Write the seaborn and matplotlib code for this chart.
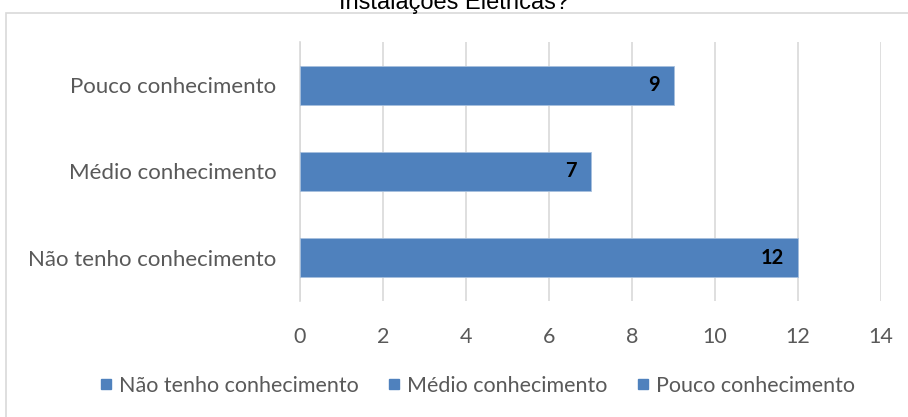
import matplotlib
matplotlib.use("Agg")
import matplotlib.pyplot as plt
from matplotlib.patches import Rectangle
from matplotlib.lines import Line2D
import seaborn as sns
import pandas as pd

categories = ["Pouco conhecimento", "Médio conhecimento", "Não tenho conhecimento"]
values = [9, 7, 12]
legend_order = ["Não tenho conhecimento", "Médio conhecimento", "Pouco conhecimento"]
x_ticks = [0, 2, 4, 6, 8, 10, 12, 14]
title = "Instalações Elétricas?"

bar_color = "#4F81BD"
text_gray = "#595959"
grid_gray = "#D9D9D9"

sns.set_theme(style="white")
plt.rcParams["font.family"] = ["Lato", "DejaVu Sans"]

df = pd.DataFrame({"categoria": categories, "valor": values})

W, H = 908, 417
fig = plt.figure(figsize=(W / 100, H / 100), dpi=100)

# outer chart frame
fig.patches.append(Rectangle((6 / W, -0.1), 1.2, 1 - 13 / H + 0.1,
                             transform=fig.transFigure, fill=False,
                             edgecolor="#D9D9D9", linewidth=1.2, zorder=0))
fig.text(454 / W, 1 - 9.5 / H, title, ha="center", va="baseline",
         fontsize=17, color="#000000", family=["Liberation Sans", "DejaVu Sans"])

ax = fig.add_axes([300 / W, 1 - 301 / H, 581 / W, 259 / H])
sns.barplot(data=df, x="valor", y="categoria", order=categories,
            color=bar_color, saturation=1, width=0.45, ax=ax, zorder=3,
            edgecolor="#a7c0de", linewidth=0.6)

ax.set_xlim(0, 14)
ax.set_ylim(2.5, -0.5)
ax.set_xticks(x_ticks)
ax.set_xticklabels([str(t) for t in x_ticks])
ax.set_xlabel("")
ax.set_ylabel("")
ax.grid(axis="x", color=grid_gray, linewidth=1.2, zorder=0)
ax.grid(axis="y", visible=False)
for s in ["top", "right", "bottom"]:
    ax.spines[s].set_visible(False)
ax.spines["left"].set_color(grid_gray)
ax.spines["left"].set_linewidth(1.2)

ax.tick_params(axis="x", length=0, pad=19, labelsize=15.5, labelcolor=text_gray)
ax.tick_params(axis="y", which="major", length=0, pad=17, labelsize=16, labelcolor=text_gray)
ax.set_yticks([-0.5, 0.5, 1.5, 2.5], minor=True)
ax.tick_params(axis="y", which="minor", length=5, color=grid_gray, width=1.2)

for bar, v in zip(ax.patches, values):
    ax.text(bar.get_width() - 0.33, bar.get_y() + bar.get_height() / 2, str(v),
            ha="right", va="center", fontsize=14.5, fontweight="bold", color="#000000", zorder=4)

handles = [Line2D([0], [0], marker="s", linestyle="none", markersize=6.5,
                  markerfacecolor=bar_color, markeredgecolor=bar_color)
           for _ in legend_order]
fig.legend(handles, legend_order, loc="center", bbox_to_anchor=(477 / W, 1 - 386 / H),
           ncol=3, frameon=False, fontsize=15.5, handletextpad=0.25, columnspacing=1.3,
           handlelength=0.7, labelcolor=text_gray)

fig.savefig("out.png", dpi=100)
